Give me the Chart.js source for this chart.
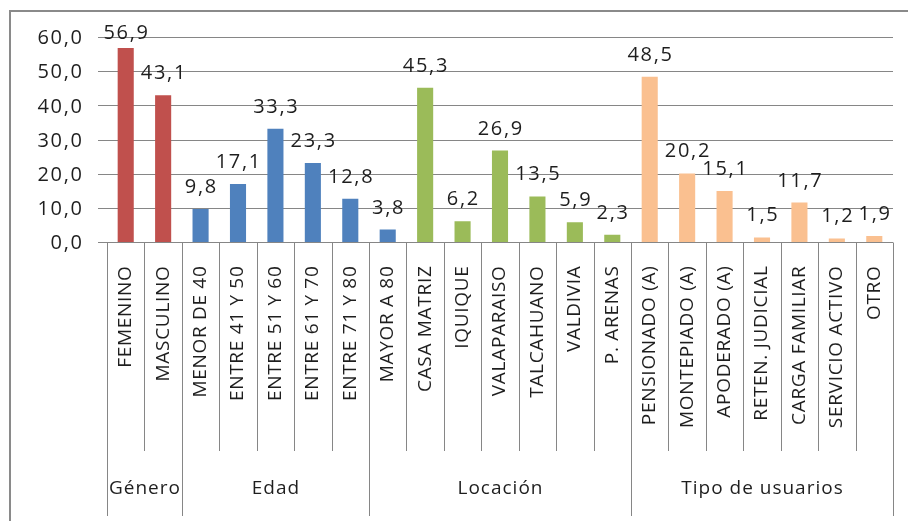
<!DOCTYPE html>
<html>
<head>
<meta charset="utf-8">
<script src="https://cdn.jsdelivr.net/npm/chart.js@4.4.1/dist/chart.umd.min.js"></script>
<style>
  html, body { margin: 0; padding: 0; background: #fff; }
  #wrap { width: 908px; height: 521px; }
</style>
</head>
<body>
<div id="wrap"><canvas id="chart" width="908" height="521"></canvas></div>
<script>
// categories, left to right
const categories = [
  'FEMENINO', 'MASCULINO',
  'MENOR DE 40', 'ENTRE 41 Y 50', 'ENTRE 51 Y 60', 'ENTRE 61 Y 70', 'ENTRE 71 Y 80', 'MAYOR A 80',
  'CASA MATRIZ', 'IQUIQUE', 'VALAPARAISO', 'TALCAHUANO', 'VALDIVIA', 'P. ARENAS',
  'PENSIONADO (A)', 'MONTEPIADO (A)', 'APODERADO (A)', 'RETEN. JUDICIAL', 'CARGA FAMILIAR', 'SERVICIO ACTIVO', 'OTRO'
];
const values = [
  56.9, 43.1,
  9.8, 17.1, 33.3, 23.3, 12.8, 3.8,
  45.3, 6.2, 26.9, 13.5, 5.9, 2.3,
  48.5, 20.2, 15.1, 1.5, 11.7, 1.2, 1.9
];
// second level of the axis: group names and how many categories each spans
const groupNames = ['Género', 'Edad', 'Locación', 'Tipo de usuarios'];
const groupSizes = [2, 5, 7, 7];
// how many bars get each colour
const colourRuns = [2, 6, 6, 7];
const yTicks = [0, 10, 20, 30, 40, 50, 60];

const palette = ['#C0504D', '#4F81BD', '#9BBB59', '#FAC090'];
const barColors = [];
colourRuns.forEach((n, i) => { for (let k = 0; k < n; k++) barColors.push(palette[i]); });

const FONT = "'Open Sans', 'Noto Sans', sans-serif";
const lineCol = '#868686';
const textCol = '#1e1e1e';
const fmt = v => v.toFixed(1).replace('.', ',');

// text with extra letter spacing (the reference font runs wide)
function spaced(ctx, str, px, py, spacing, align) {
  ctx.letterSpacing = spacing + 'px';
  ctx.textAlign = align;
  const shift = align === 'center' ? spacing / 2 : align === 'right' ? spacing : 0;
  ctx.fillText(str, px + shift, py);
}

const extras = {
  id: 'extras',
  beforeDraw(chart) {
    chart.ctx.letterSpacing = '0.7px';
  },
  afterDraw(chart) {
    const ctx = chart.ctx;
    const x = chart.scales.x;
    const y = chart.scales.y;
    const area = chart.chartArea;
    ctx.save();

    // outer frame (only top and left fit in the picture)
    ctx.strokeStyle = '#8a8a8a';
    ctx.lineWidth = 2;
    ctx.strokeRect(10, 11, 1000, 600);

    // category separators and group separators
    ctx.strokeStyle = lineCol;
    ctx.lineWidth = 1;
    const bounds = [0];
    groupSizes.forEach(n => bounds.push(bounds[bounds.length - 1] + n));
    for (let i = 0; i <= categories.length; i++) {
      const px = Math.round(x.getPixelForValue(i - 0.5)) + 0.5;
      const isGroup = bounds.includes(i);
      ctx.beginPath();
      ctx.moveTo(px, area.bottom);
      ctx.lineTo(px, isGroup ? 516 : 451);
      ctx.stroke();
    }

    ctx.fillStyle = textCol;

    // group labels
    ctx.font = '19px ' + FONT;
    ctx.textBaseline = 'middle';
    groupNames.forEach((g, i) => {
      const a = x.getPixelForValue(bounds[i] - 0.5);
      const b = x.getPixelForValue(bounds[i + 1] - 0.5);
      spaced(ctx, g, (a + b) / 2, 489, 1, 'center');
    });

    // y tick labels
    ctx.font = '20px ' + FONT;
    yTicks.forEach(v => spaced(ctx, fmt(v), 82, y.getPixelForValue(v) + 1, 1.7, 'right'));

    // value labels above bars
    ctx.textBaseline = 'alphabetic';
    const meta = chart.getDatasetMeta(0);
    meta.data.forEach((bar, i) => {
      const yy = Math.max(bar.y - 16, area.top + 1);
      spaced(ctx, fmt(values[i]), bar.x, yy, 1.7, 'center');
    });
    ctx.restore();
  }
};

new Chart(document.getElementById('chart'), {
  type: 'bar',
  data: {
    labels: categories,
    datasets: [{
      data: values,
      backgroundColor: barColors,
      borderWidth: 0,
      barPercentage: 0.43,
      categoryPercentage: 1
    }]
  },
  options: {
    responsive: false,
    animation: false,
    layout: { padding: { top: 37.5, right: 15, left: 0, bottom: 0 } },
    plugins: { legend: { display: false }, tooltip: { enabled: false } },
    scales: {
      x: {
        grid: { display: false, drawTicks: false },
        border: { display: false },
        ticks: {
          autoSkip: false, minRotation: 90, maxRotation: 90,
          padding: 23, color: textCol, font: { family: FONT, size: 19 }
        },
        afterFit: s => { s.height = 278.5; s.paddingLeft = 0; s.paddingRight = 0; }
      },
      y: {
        min: 0, max: 60,
        afterBuildTicks: s => { s.ticks = yTicks.map(v => ({ value: v })); },
        grid: { color: lineCol, tickLength: 9, drawTicks: true },
        border: { display: false },
        ticks: { display: false },
        afterFit: s => { s.width = 107; s.paddingTop = 0; s.paddingBottom = 0; }
      }
    }
  },
  plugins: [extras]
});
</script>
</body>
</html>
